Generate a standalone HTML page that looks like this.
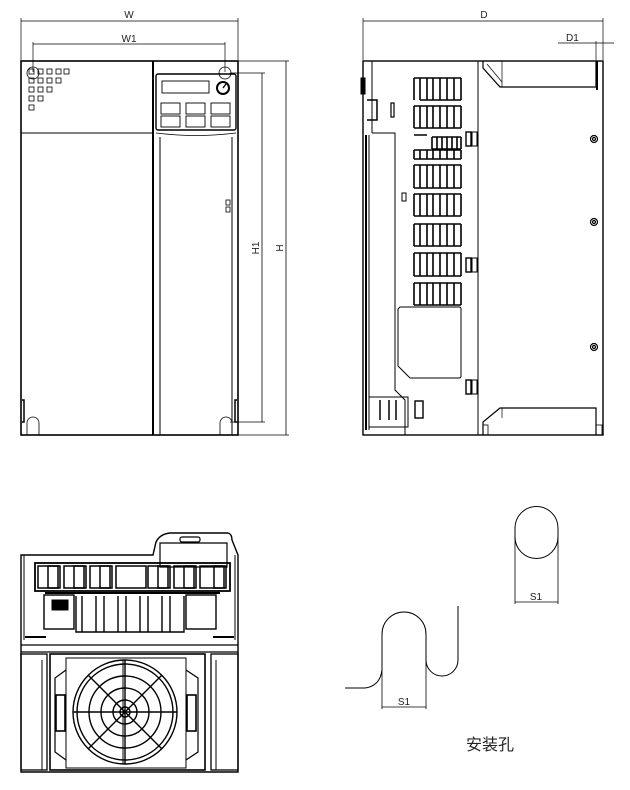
<!DOCTYPE html>
<html><head><meta charset="utf-8"><style>
html,body{margin:0;padding:0;background:#fff;}
svg{display:block;}
text{font-family:"Liberation Sans",Arial,sans-serif;fill:#222;}
</style></head><body>
<svg width="630" height="790" viewBox="0 0 630 790" xmlns="http://www.w3.org/2000/svg" fill="none" stroke="#000" stroke-width="1">
<!-- ===== FRONT VIEW ===== -->
<line x1="21" y1="18" x2="21" y2="60" stroke-width="0.7"/>
<line x1="238" y1="18" x2="238" y2="60" stroke-width="0.7"/>
<line x1="21" y1="21" x2="238" y2="21" stroke-width="0.8"/>
<text x="129" y="18" font-size="10" text-anchor="middle" stroke="none">W</text>
<line x1="33" y1="42" x2="33" y2="72" stroke-width="0.7"/>
<line x1="225" y1="42" x2="225" y2="72" stroke-width="0.7"/>
<line x1="33" y1="44" x2="225" y2="44" stroke-width="0.8"/>
<text x="129" y="42" font-size="10" text-anchor="middle" stroke="none">W1</text>
<rect x="21" y="61" width="217" height="374" stroke-width="1.6"/>
<line x1="153" y1="61" x2="153" y2="435" stroke-width="2"/>
<line x1="21" y1="133" x2="153" y2="133"/>
<g stroke-width="0.8">
<rect x="29" y="69" width="5" height="5"/><rect x="38" y="69" width="5" height="5"/><rect x="47" y="69" width="5" height="5"/><rect x="56" y="69" width="5" height="5"/><rect x="64" y="69" width="5" height="5"/>
<rect x="29" y="78" width="5" height="5"/><rect x="38" y="78" width="5" height="5"/><rect x="47" y="78" width="5" height="5"/><rect x="56" y="78" width="5" height="5"/>
<rect x="29" y="87" width="5" height="5"/><rect x="38" y="87" width="5" height="5"/><rect x="47" y="87" width="5" height="5"/>
<rect x="29" y="96" width="5" height="5"/><rect x="38" y="96" width="5" height="5"/>
<rect x="29" y="105" width="5" height="5"/>
<circle cx="33" cy="73" r="6"/><circle cx="225" cy="73" r="6"/>
</g>
<rect x="156" y="74" width="80" height="56" rx="2" stroke-width="1.4"/>
<rect x="162" y="81" width="47" height="12" stroke-width="0.9"/>
<circle cx="223" cy="88" r="6" stroke-width="2"/>
<line x1="223" y1="88" x2="226" y2="84" stroke-width="1.3"/>
<g stroke-width="0.9">
<rect x="161" y="103" width="19" height="11"/><rect x="186" y="103" width="19" height="11"/><rect x="211" y="103" width="19" height="11"/>
<rect x="161" y="116" width="19" height="11"/><rect x="186" y="116" width="19" height="11"/><rect x="211" y="116" width="19" height="11"/>
</g>
<line x1="160" y1="137" x2="160" y2="435"/>
<line x1="232" y1="137" x2="232" y2="435"/>
<path d="M156 133 Q196 138 236 133" stroke-width="0.8"/>
<rect x="226" y="200" width="4" height="5" stroke-width="0.8"/><rect x="226" y="207" width="4" height="5" stroke-width="0.8"/>
<path d="M22 400 h2 v22 h-2" stroke-width="1.5"/>
<path d="M237 400 h-2 v22 h2" stroke-width="1.5"/>
<path d="M27 435 v-12 a6 6 0 0 1 12 0 v12" stroke-width="0.8"/>
<path d="M220 435 v-12 a6 6 0 0 1 12 0 v12" stroke-width="0.8"/>
<!-- H1 / H -->
<line x1="230" y1="73" x2="265" y2="73" stroke-width="0.7"/>
<line x1="230" y1="422" x2="265" y2="422" stroke-width="0.7"/>
<line x1="262" y1="73" x2="262" y2="422" stroke-width="0.8"/>
<text transform="translate(259,248) rotate(-90)" font-size="10" text-anchor="middle" stroke="none">H1</text>
<line x1="238" y1="61" x2="289" y2="61" stroke-width="0.7"/>
<line x1="238" y1="435" x2="289" y2="435" stroke-width="0.7"/>
<line x1="286" y1="61" x2="286" y2="435" stroke-width="0.8"/>
<text transform="translate(283,248) rotate(-90)" font-size="10" text-anchor="middle" stroke="none">H</text>

<!-- ===== SIDE VIEW ===== -->
<line x1="363" y1="18" x2="363" y2="60" stroke-width="0.7"/>
<line x1="603" y1="18" x2="603" y2="60" stroke-width="0.7"/>
<line x1="363" y1="21" x2="603" y2="21" stroke-width="0.8"/>
<text x="484" y="18" font-size="10" text-anchor="middle" stroke="none">D</text>
<line x1="596" y1="41" x2="596" y2="60" stroke-width="0.7"/>
<line x1="558" y1="43" x2="614" y2="43" stroke-width="0.7"/>
<text x="566" y="41" font-size="10" stroke="none">D1</text>
<rect x="363" y="61" width="240" height="374" stroke-width="1.4"/>
<line x1="372" y1="61" x2="372" y2="133"/>
<line x1="478" y1="61" x2="478" y2="435"/>
<rect x="361" y="78" width="4" height="16" fill="#000"/>
<path d="M367 100 h10 v20 h-10" stroke-width="1.5"/>
<rect x="391" y="103" width="3" height="14" stroke-width="1.2"/>
<path d="M372 133 H395 V390 L405 400 V435" stroke-width="1"/>
<line x1="366" y1="135" x2="366" y2="430" stroke-width="2"/>
<line x1="369" y1="135" x2="369" y2="430"/>
<g fill="none" stroke-width="1.6">
<path d="M414 78 h6 M414 78 v22 M420 78 v22 M427 78 v22 M433 78 v22 M440 78 v22 M447 78 v22 M454 78 v22 M461 78 v22 M420 78 h41 M420 100 h41"/>
<path d="M414 106 v22 M420 106 v22 M427 106 v22 M433 106 v22 M440 106 v22 M447 106 v22 M454 106 v22 M461 106 v22 M414 106 h47 M414 128 h47"/>
<path d="M414 135 h13 M432 137 v12 M437 137 v12 M442 137 v12 M447 137 v12 M452 137 v12 M457 137 v12 M461 137 v12 M432 137 h29 M432 149 h29"/>
<path d="M414 150 v9 M420 150 v9 M427 150 v9 M433 150 v9 M440 150 v9 M447 150 v9 M454 150 v9 M461 150 v9 M414 150 h47 M414 159 h47"/>
<path d="M414 165 v23 M420 165 v23 M427 165 v23 M433 165 v23 M440 165 v23 M447 165 v23 M454 165 v23 M461 165 v23 M414 165 h47 M414 188 h47"/>
<path d="M414 194 v22 M420 194 v22 M427 194 v22 M433 194 v22 M440 194 v22 M447 194 v22 M454 194 v22 M461 194 v22 M414 194 h47 M414 216 h47"/>
<path d="M414 224 v22 M420 224 v22 M427 224 v22 M433 224 v22 M440 224 v22 M447 224 v22 M454 224 v22 M461 224 v22 M414 224 h47 M414 246 h47"/>
<path d="M414 253 v23 M420 253 v23 M427 253 v23 M433 253 v23 M440 253 v23 M447 253 v23 M454 253 v23 M461 253 v23 M414 253 h47 M414 276 h47"/>
<path d="M414 283 v22 M420 283 v22 M427 283 v22 M433 283 v22 M440 283 v22 M447 283 v22 M454 283 v22 M461 283 v22 M414 283 h47 M414 305 h47"/>
</g>
<rect x="402" y="193" width="4" height="8" stroke-width="1"/>
<path d="M400 307 H459 Q461 307 461 309 V376 Q461 378 459 378 H410 L398 366 V309 Z" stroke-width="1"/>
<rect x="466" y="132" width="5" height="14" stroke-width="1.4"/><rect x="472" y="132" width="5" height="14"/>
<rect x="466" y="258" width="5" height="14" stroke-width="1.4"/><rect x="472" y="258" width="5" height="14"/>
<rect x="466" y="380" width="5" height="14" stroke-width="1.4"/><rect x="472" y="380" width="5" height="14"/>
<rect x="415" y="401" width="8" height="17" stroke-width="1.4"/>
<path d="M369 397 h39 v30 h-39" stroke-width="1"/>
<path d="M380 400 v20 M389 400 v20 M396 400 v20" stroke-width="1.5"/>
<path d="M483 61 V68 L500 87 H596 V61" stroke-width="1.2"/>
<line x1="487" y1="64" x2="502" y2="82" stroke-width="0.7"/>
<line x1="502" y1="61" x2="502" y2="87" stroke-width="0.7"/>
<path d="M483 435 V422 L500 408 H596 V435" stroke-width="1.2"/>
<line x1="502" y1="408" x2="502" y2="418" stroke-width="0.7"/>
<rect x="483" y="425" width="5" height="10" stroke-width="0.8"/>
<rect x="596" y="425" width="6" height="10" stroke-width="0.8"/>
<line x1="597" y1="61" x2="597" y2="90" stroke-width="2"/>
<g stroke-width="1.2"><circle cx="594" cy="139" r="3.5"/><circle cx="594" cy="139" r="1.5"/>
<circle cx="594" cy="222" r="3.5"/><circle cx="594" cy="222" r="1.5"/>
<circle cx="594" cy="347" r="3.5"/><circle cx="594" cy="347" r="1.5"/></g>

<!-- ===== BOTTOM VIEW ===== -->
<path d="M21 555 H153 L156 542 Q160 534 170 533 H228 Q232 534 232 540 L238 555 V772 H21 Z" stroke-width="1.4"/>
<line x1="21" y1="645" x2="238" y2="645" stroke-width="1.2"/>
<line x1="21" y1="652" x2="238" y2="652" stroke-width="1.2"/>
<line x1="24" y1="555" x2="24" y2="640"/>
<line x1="235" y1="555" x2="235" y2="640"/>
<rect x="180" y="537" width="20" height="5" rx="2" stroke-width="1.2"/>
<path d="M160 543 H227 V567 H160 Z" stroke-width="1.2"/>
<rect x="35" y="563" width="195" height="28" stroke-width="1.8"/>
<g stroke-width="1.5">
<rect x="38" y="566" width="22" height="22"/><rect x="48" y="566" width="10" height="22"/>
<rect x="64" y="566" width="22" height="22"/><rect x="74" y="566" width="10" height="22"/>
<rect x="90" y="566" width="22" height="22"/><rect x="100" y="566" width="10" height="22"/>
<rect x="116" y="566" width="30" height="22"/>
<rect x="148" y="566" width="22" height="22"/><rect x="158" y="566" width="10" height="22"/>
<rect x="174" y="566" width="22" height="22"/><rect x="184" y="566" width="10" height="22"/>
<rect x="200" y="566" width="26" height="22"/><rect x="214" y="566" width="10" height="22"/>
</g>
<line x1="45" y1="593" x2="220" y2="593" stroke-width="2"/>
<rect x="44" y="595" width="30" height="34" stroke-width="1.4"/>
<rect x="52" y="600" width="16" height="10" fill="#000"/>
<rect x="186" y="595" width="30" height="34" stroke-width="1.4"/>
<g stroke-width="1.4">
<path d="M76 596 V632 H184 V596"/>
<path d="M82 596 v36 M96 596 v36 M104 596 v36 M118 596 v36 M126 596 v36 M140 596 v36 M148 596 v36 M162 596 v36 M170 596 v36"/>
</g>
<line x1="25" y1="637" x2="46" y2="637" stroke-width="2"/>
<line x1="213" y1="637" x2="234" y2="637" stroke-width="2"/>
<!-- fan section -->
<rect x="21" y="654" width="26" height="116" stroke-width="1.3"/>
<line x1="42" y1="660" x2="42" y2="770" stroke-width="1"/>
<rect x="211" y="654" width="27" height="116" stroke-width="1.3"/>
<line x1="216" y1="660" x2="216" y2="770" stroke-width="1"/>
<rect x="50" y="654" width="155" height="116" stroke-width="1.6"/>
<rect x="66" y="658" width="120" height="110" stroke-width="1"/>
<path d="M66 670 L55 678 V752 L66 760" stroke-width="1.2"/>
<path d="M186 670 L198 678 V752 L186 760" stroke-width="1.2"/>
<rect x="56" y="695" width="9" height="36" stroke-width="1.6"/>
<rect x="187" y="695" width="9" height="36" stroke-width="1.6"/>
<g stroke-width="1.4">
<circle cx="125" cy="712" r="52"/><circle cx="125" cy="712" r="48"/>
<circle cx="125" cy="712" r="36"/><circle cx="125" cy="712" r="24"/><circle cx="125" cy="712" r="12"/><circle cx="125" cy="712" r="5"/>
<line x1="73" y1="712" x2="177" y2="712"/><line x1="125" y1="660" x2="125" y2="764"/>
<line x1="88" y1="675" x2="162" y2="749"/><line x1="162" y1="675" x2="88" y2="749"/>
</g>
<line x1="123" y1="660" x2="123" y2="764" stroke-width="1"/>

<!-- ===== MOUNTING HOLES ===== -->
<path d="M515 528 A21.5 21.5 0 0 1 558 528 V537 A21.5 21.5 0 0 1 515 537 Z" stroke-width="1"/>
<line x1="515" y1="528" x2="515" y2="604" stroke-width="0.8"/>
<line x1="558" y1="528" x2="558" y2="604" stroke-width="0.8"/>
<line x1="515" y1="602" x2="558" y2="602" stroke-width="0.8"/>
<text x="536" y="600" font-size="10" text-anchor="middle" stroke="none">S1</text>
<path d="M345 688 H365 Q380 686 382 670 V634 A22 22 0 0 1 426 634 V660 A16 16 0 0 0 458 660 V606" stroke-width="1"/>
<line x1="382" y1="670" x2="382" y2="709" stroke-width="0.8"/>
<line x1="426" y1="660" x2="426" y2="709" stroke-width="0.8"/>
<line x1="382" y1="707" x2="426" y2="707" stroke-width="0.8"/>
<text x="404" y="705" font-size="10" text-anchor="middle" stroke="none">S1</text>
<text x="490" y="750" font-size="16" text-anchor="middle" stroke="none" style="font-family:'Liberation Sans','Noto Sans CJK SC',sans-serif">安装孔</text>
</svg>
</body></html>
